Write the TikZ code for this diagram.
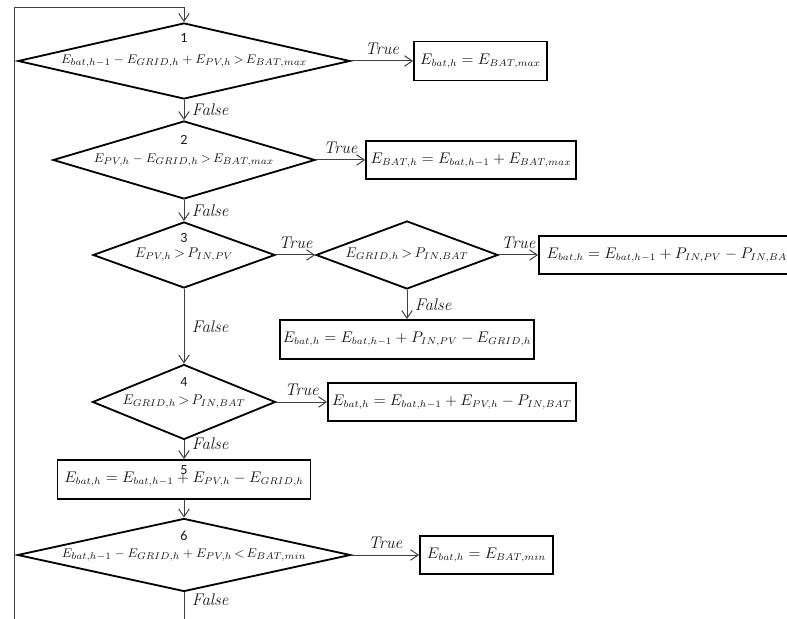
\documentclass[tikz,border=0pt]{standalone}
\usepackage{amsmath}
\usepackage{amssymb}
\usepackage{fontspec}
\newfontfamily\numfont{Carlito}
\usetikzlibrary{shapes.geometric,arrows.meta,positioning}

\begin{document}
\begin{tikzpicture}[
  font=\fontsize{10.5}{12}\selectfont,
  cond/.style={shape=diamond,draw=cbox,fill=cfbox,text=clbl,line width=1.3pt,inner sep=0pt,
    font=\fontsize{10}{12}\selectfont,execute at begin node={\thickmuskip=3mu}},
  widecond/.style={cond,font=\fontsize{9.5}{11}\selectfont},
  act/.style={shape=rectangle,draw=cbox,fill=cfbox,text=clbl,line width=1.3pt,inner xsep=2pt,inner ysep=0pt},
  flow/.style={draw=carr,line width=0.7pt,-{Straight Barb[length=5.5pt,width=7.5pt]}},
  tlbl/.style={above=1pt,text=clbl,font=\fontsize{12}{14}\selectfont\itshape},
  flbl/.style={right=2pt,text=clbl,font=\fontsize{12}{14}\selectfont\itshape},
  num/.style={text=clbl,font=\numfont\fontsize{10}{12}\selectfont}
]
%
\useasboundingbox (0,0) rectangle (19.675cm,15.475cm);
\clip (0,0) rectangle (19.675cm,15.475cm);
%
\definecolor{cbox}{rgb}{0.0,0.0,0.0}
\definecolor{cfbox}{rgb}{1.0,1.0,1.0}
\definecolor{clbl}{rgb}{0.1,0.1,0.1}
\definecolor{carr}{rgb}{0.25,0.25,0.25}
%
\node[widecond,minimum width=8.3cm,minimum height=1.9cm] (d1) at (4.6cm,13.95cm) {\makebox[0pt]{$E_{bat,h-1}-E_{GRID,h}+E_{PV,h}>E_{BAT,max}$}};
\node[widecond,minimum width=6.55cm,minimum height=1.95cm] (d2) at (4.6cm,11.475cm) {\makebox[0pt]{$E_{PV,h}-E_{GRID,h}>E_{BAT,max}$}};
\node[cond,minimum width=4.55cm,minimum height=1.65cm] (d3) at (4.6cm,9.1cm) {\makebox[0pt]{$E_{PV,h}>P_{IN,PV}$}};
\node[cond,minimum width=4.55cm,minimum height=1.7cm] (d3b) at (10.175cm,9.1cm) {\makebox[0pt]{$E_{GRID,h}>P_{IN,BAT}$}};
\node[cond,minimum width=4.575cm,minimum height=1.875cm] (d4) at (4.6cm,5.425cm) {\makebox[0pt]{$E_{GRID,h}>P_{IN,BAT}$}};
\node[widecond,minimum width=8.325cm,minimum height=1.825cm] (d6) at (4.6cm,1.6cm) {\makebox[0pt]{$E_{bat,h-1}-E_{GRID,h}+E_{PV,h}<E_{BAT,min}$}};
%
\node[num] (n1) at (4.6cm,14.525cm) {1};
\node[num] (n2) at (4.6cm,11.975cm) {2};
\node[num] (n3) at (4.6cm,9.525cm) {3};
\node[num] (n4) at (4.6cm,5.925cm) {4};
\node[num] (n6) at (4.6cm,2.075cm) {6};
%
\node[act,minimum width=3.325cm,minimum height=0.975cm] (b1) at (12.0125cm,13.95cm) {$E_{bat,h}=E_{BAT,max}$};
\node[act,minimum width=5.25cm,minimum height=0.95cm] (b2) at (11.775cm,11.475cm) {$E_{BAT,h}=E_{bat,h-1}+E_{BAT,max}$};
\node[act,anchor=west,minimum width=6.6cm,minimum height=0.95cm] (b3a) at (13.45cm,9.1cm) {$E_{bat,h}=E_{bat,h-1}+P_{IN,PV}-P_{IN,BAT}$};
\node[act,minimum width=6.025cm,minimum height=0.975cm] (b3b) at (10.175cm,6.9875cm) {$E_{bat,h}=E_{bat,h-1}+P_{IN,PV}-E_{GRID,h}$};
\node[act,minimum width=6.2cm,minimum height=0.95cm] (b4) at (11.3cm,5.425cm) {$E_{bat,h}=E_{bat,h-1}+E_{PV,h}-P_{IN,BAT}$};
\node[act,minimum width=6.325cm,minimum height=0.975cm] (b5) at (4.6cm,3.4875cm) {$E_{bat,h}=E_{bat,h-1}+E_{PV,h}-E_{GRID,h}$};
\node[act,minimum width=3.325cm,minimum height=0.95cm] (b6) at (12.1625cm,1.6cm) {$E_{bat,h}=E_{BAT,min}$};
\node[num] (n5) at (4.6cm,3.725cm) {5};
%
\draw[flow] (d1.east) -- node[tlbl] (t1) {True} (b1.west);
\draw[flow] (d1.south) -- node[flbl] (f1) {False} (d2.north);
\draw[flow] (d2.east) -- node[tlbl] (t2) {True} (b2.west);
\draw[flow] (d2.south) -- node[flbl] (f2) {False} (d3.north);
\draw[flow] (d3.east) -- node[tlbl] (t3) {True} (d3b.west);
\draw[flow] (d3b.east) -- node[tlbl] (t3b) {True} (b3a.west);
\draw[flow] (d3b.south) -- node[flbl] (f3b) {False} (b3b.north);
\draw[flow] (d3.south) -- node[flbl] (f3) {False} (d4.north);
\draw[flow] (d4.east) -- node[tlbl] (t4) {True} (b4.west);
\draw[flow] (d4.south) -- node[flbl,pos=0.2] (f4) {False} (b5.north);
\draw[flow] (b5.south) -- (d6.north);
\draw[flow] (d6.east) -- node[tlbl] (t6) {True} (b6.west);
%
\coordinate (lb) at (0.35cm,-0.5cm);
\coordinate (lt) at (0.35cm,15.275cm);
\draw[flow] (d6.south) -- node[flbl,pos=0.15] (f6) {False} (d6.south |- lb) -- (lb) -- (lt) -- (d1.north |- lt) -- (d1.north);
%
\end{tikzpicture}
\end{document}
